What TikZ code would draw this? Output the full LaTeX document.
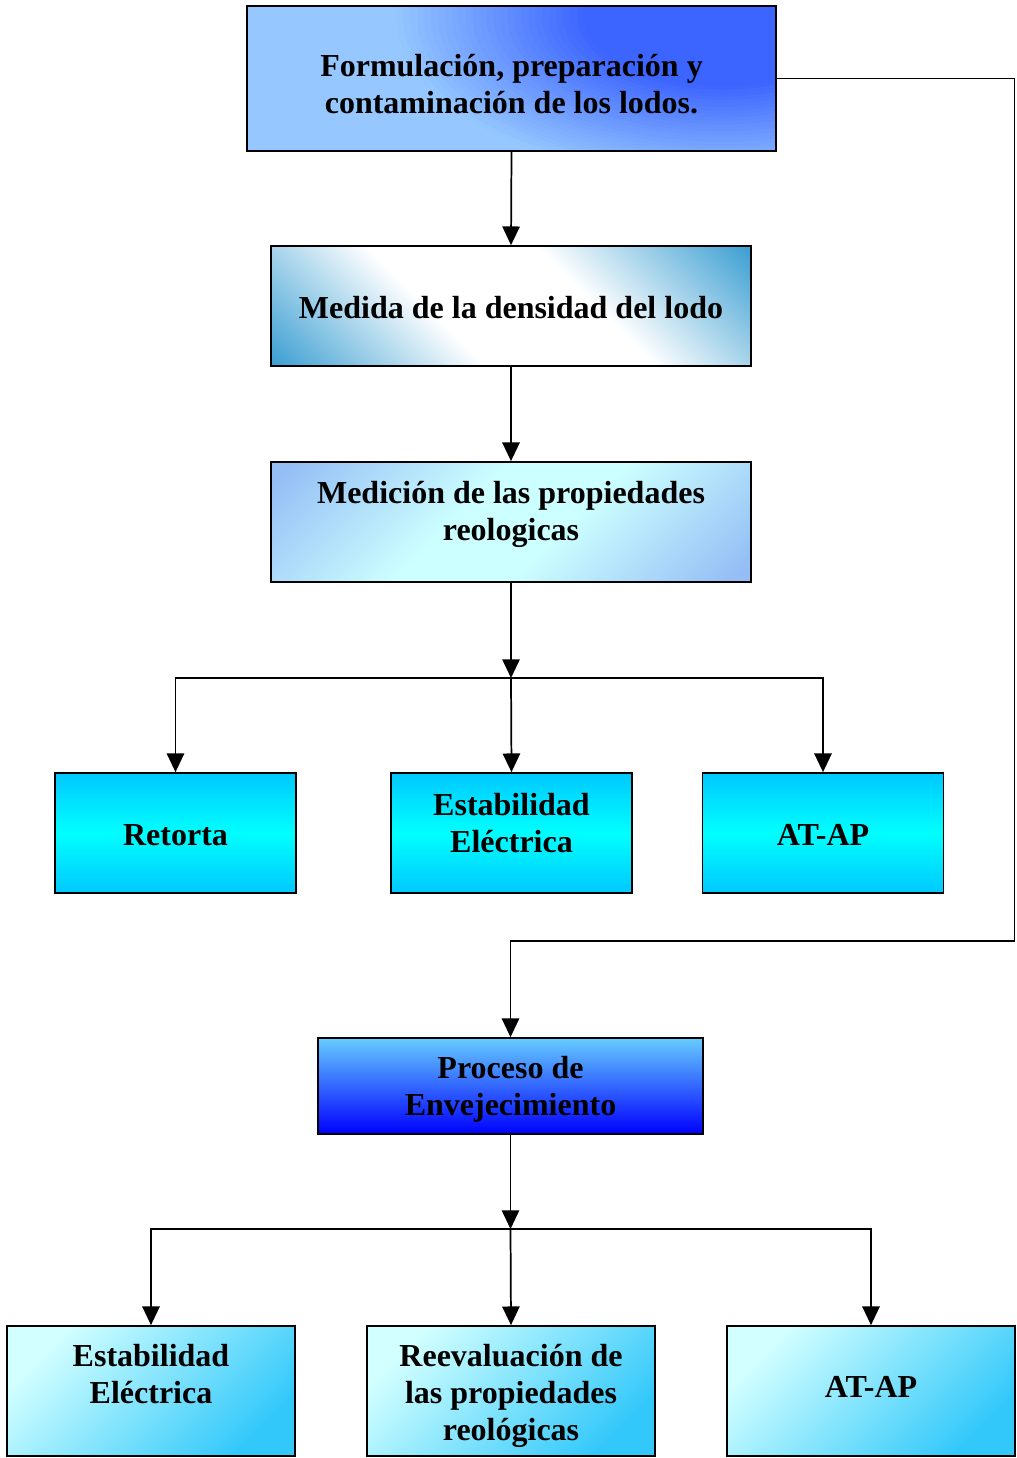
\documentclass[tikz,border=0pt]{standalone}
\usepackage{fontspec}
\setmainfont{Liberation Serif}
\usetikzlibrary{arrows.meta}
\definecolor{topdark}{HTML}{3C64FF}
\definecolor{toplight}{HTML}{96C8FF}
\definecolor{steel}{HTML}{2E98CF}
\definecolor{medblue}{HTML}{94BEF5}
\definecolor{medlight}{HTML}{CCFFFF}
\definecolor{cyanedge}{HTML}{00C8FF}
\definecolor{cyanmid}{HTML}{00FFFF}
\definecolor{proctop}{HTML}{66CCFF}
\definecolor{procbot}{HTML}{0000FF}
\definecolor{botlight}{HTML}{D2FFFF}
\definecolor{botdark}{HTML}{33C8FA}
\pgfdeclareverticalshading{medidashade}{100bp}{color(0bp)=(steel); color(13bp)=(steel); color(40bp)=(white); color(60bp)=(white); color(87bp)=(steel); color(100bp)=(steel)}
\pgfdeclareverticalshading{medicionshade}{100bp}{color(0bp)=(medblue); color(17bp)=(medblue); color(43bp)=(medlight); color(57bp)=(medlight); color(83bp)=(medblue); color(100bp)=(medblue)}
\tikzset{
  box/.style={draw=black, line width=1.3pt, rectangle, inner sep=0pt},
  arr/.style={line width=1.3pt, -{Triangle[length=14pt,width=13pt]}},
  txt/.style={align=center, inner sep=0pt, font=\fontsize{24}{27.75}\selectfont\bfseries},
}
\begin{document}
\begin{tikzpicture}[x=0.75pt,y=-0.75pt]
\useasboundingbox (0,0) rectangle (1016,1458);
% boxes
\node[box, minimum width=396.75pt, minimum height=108.75pt, fill=toplight,
  path picture={
    \foreach \i in {0,...,48}{
      \pgfmathsetmacro{\rr}{1-\i/48}
      \pgfmathtruncatemacro{\pp}{min(100,\i*3.6)}
      \fill[topdark!\pp!toplight]
        ([xshift=-40pt,yshift=-8pt]path picture bounding box.north east)
        ellipse [x radius=\rr*250pt, y radius=\rr*125pt];
    }}]
  (b1) at (511.5,78.5) {};
\node[txt] (b1t) at (511.5,84) {Formulación, preparación y\\contaminación de los lodos.};
\node[box, minimum width=360pt, minimum height=90pt,
  path picture={\shade[shading=medidashade, shading angle=-45]
    (path picture bounding box.south west) rectangle (path picture bounding box.north east);}]
  (b2) at (511,306) {};
\node[txt] (b2t) at (511,308) {Medida de la densidad del lodo};
\node[box, minimum width=360pt, minimum height=90pt,
  path picture={\shade[shading=medicionshade, shading angle=45]
    (path picture bounding box.south west) rectangle (path picture bounding box.north east);}]
  (b3) at (511,522) {};
\node[txt] (b3t) at (511,514) {Medición de las propiedades\\reologicas};
\node[box, minimum width=180.75pt, minimum height=90pt,
  top color=cyanedge, bottom color=cyanedge, middle color=cyanmid]
  (b4a) at (175.5,833) {};
\node[txt] (b4at) at (175.5,835) {Retorta};
\node[box, minimum width=180.75pt, minimum height=90pt,
  top color=cyanedge, bottom color=cyanedge, middle color=cyanmid]
  (b4b) at (511.5,833) {};
\node[txt] (b4bt) at (511.5,823) {Estabilidad\\Eléctrica};
\node[box, minimum width=180.75pt, minimum height=90pt,
  top color=cyanedge, bottom color=cyanedge, middle color=cyanmid]
  (b4c) at (823,833) {};
\node[txt] (b4ct) at (823,835) {AT-AP};
\node[box, minimum width=288.75pt, minimum height=72pt,
  top color=proctop, bottom color=procbot]
  (b5) at (510.5,1086) {};
\node[txt] (b5t) at (510.5,1089) {Proceso de\\Envejecimiento};
\node[box, minimum width=216pt, minimum height=97.5pt,
  path picture={\shade[top color=botlight, bottom color=botdark, shading angle=45]
    (path picture bounding box.south west) rectangle (path picture bounding box.north east);}]
  (b6a) at (151,1391) {};
\node[txt] (b6at) at (151,1374) {Estabilidad\\Eléctrica};
\node[box, minimum width=216pt, minimum height=97.5pt,
  path picture={\shade[top color=botlight, bottom color=botdark, shading angle=45]
    (path picture bounding box.south west) rectangle (path picture bounding box.north east);}]
  (b6b) at (511,1391) {};
\node[txt] (b6bt) at (511,1396) {Reevaluación de\\las propiedades\\reológicas};
\node[box, minimum width=216pt, minimum height=97.5pt,
  path picture={\shade[top color=botlight, bottom color=botdark, shading angle=45]
    (path picture bounding box.south west) rectangle (path picture bounding box.north east);}]
  (b6c) at (871,1391) {};
\node[txt] (b6ct) at (871,1387) {AT-AP};
% junctions
\coordinate (j1) at (511,678);
\coordinate (j2) at (510.5,1229);
\coordinate (r1) at (1014.5,941);
% connectors
\draw[arr] (b1.south) -- (b2.north);
\draw[arr] (b2.south) -- (b3.north);
\draw[arr] (b3.south) -- (j1);
\draw[arr] (j1) -| (b4a.north);
\draw[arr] (j1) -- (b4b.north);
\draw[arr] (j1) -| (b4c.north);
\draw[arr] (b1.east) -| (r1) -| (b5.north);
\draw[arr] (b5.south) -- (j2);
\draw[arr] (j2) -| (b6a.north);
\draw[arr] (j2) -- (b6b.north);
\draw[arr] (j2) -| (b6c.north);
\end{tikzpicture}
\end{document}
